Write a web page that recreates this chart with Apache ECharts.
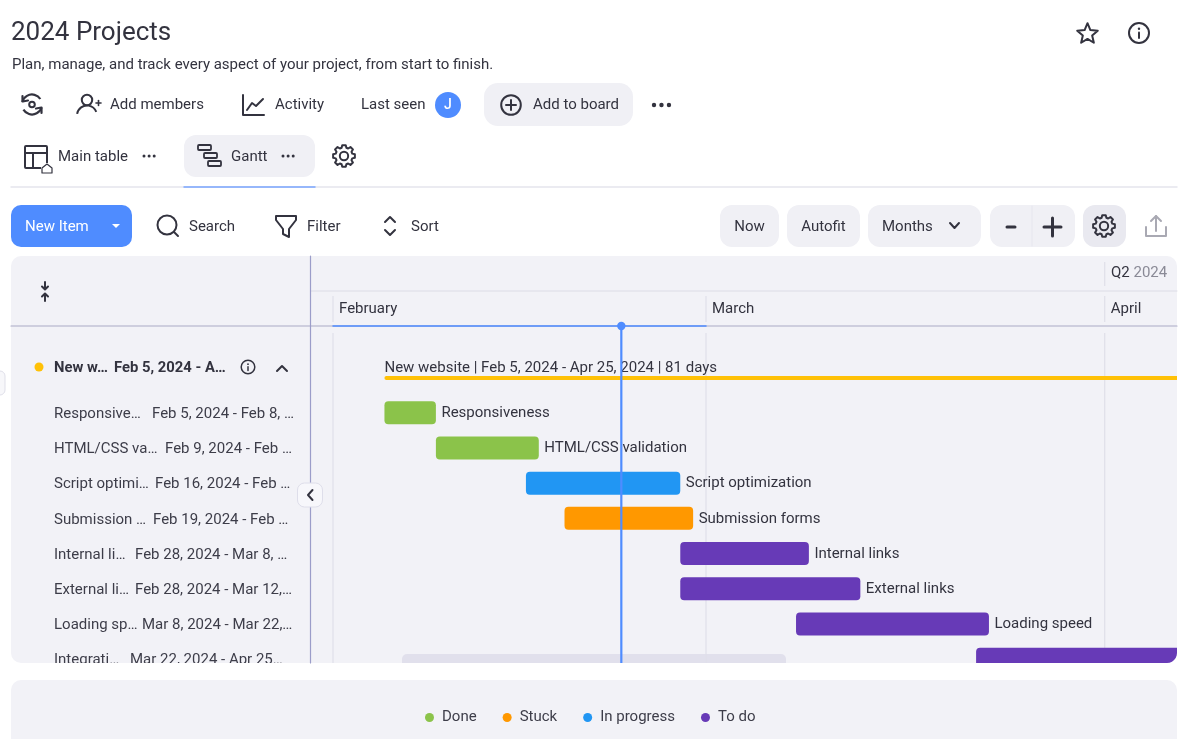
<!DOCTYPE html>
<html>
<head>
<meta charset="utf-8">
<script src="https://cdn.jsdelivr.net/npm/echarts@6/dist/echarts.min.js"></script>
<style>html,body{margin:0;padding:0;background:#fff}#main{width:1200px;height:739px}</style>
</head>
<body>
<div id="main"></div>
<script type="text/javascript">
// data
var taskNames = ['Responsiveness', 'HTML/CSS validation', 'Script optimization', 'Submission forms', 'Internal links', 'External links', 'Loading speed', 'Integration'];
var taskStatus = ['Done', 'Done', 'In progress', 'Stuck', 'To do', 'To do', 'To do', 'To do'];
var taskStarts = ['2024-02-05', '2024-02-09', '2024-02-16', '2024-02-19', '2024-02-28', '2024-02-28', '2024-03-08', '2024-03-22'];
var taskEnds = ['2024-02-09', '2024-02-17', '2024-02-28', '2024-02-29', '2024-03-09', '2024-03-13', '2024-03-23', '2024-04-26'];
var tableNames = ['Responsive…', 'HTML/CSS va…', 'Script optimi…', 'Submission …', 'Internal li…', 'External li…', 'Loading sp…', 'Integrati…'];
var tableDates = ['Feb 5, 2024 - Feb 8, …', 'Feb 9, 2024 - Feb …', 'Feb 16, 2024 - Feb …', 'Feb 19, 2024 - Feb …', 'Feb 28, 2024 - Mar 8, …', 'Feb 28, 2024 - Mar 12,…', 'Mar 8, 2024 - Mar 22,…', 'Mar 22, 2024 - Apr 25…'];
var summaryLabel = 'New website | Feb 5, 2024 - Apr 25, 2024 | 81 days';
var summaryStart = '2024-02-05';
var summaryEnd = '2024-04-26';
var monthStarts = ['2024-02-01', '2024-03-01', '2024-04-01'];
var todayDate = '2024-02-23T10:00:00Z';
var statusNames = ['Done', 'Stuck', 'In progress', 'To do'];

// styles and layout
var statusColors = { 'Done': '#8bc34a', 'Stuck': '#ff9800', 'In progress': '#2196f3', 'To do': '#673ab7' };
var dateColumnX = [152, 165, 155, 153, 135, 135, 142, 130];
var FONT = 'Roboto';
var INK = '#33333f';
var BTN = '#f0f0f5';
var PANEL = '#f2f2f7';
var BLUE = '#4f8cff';
var TEXT_SIZE = 15;

var ms = function (d) { return Date.parse(d); };
var g = [];

function text(s, x, y, size, fill, weight, align) {
    g.push({ type: 'text', z: 10, style: { text: s, x: x, y: y + 2, fill: fill || INK, align: align || 'left', verticalAlign: 'middle',
        font: (weight || 'normal') + ' ' + (size || TEXT_SIZE) + 'px ' + FONT } });
}
function rect(x, y, w, h, r, fill, stroke, z) {
    g.push({ type: 'rect', z: z === undefined ? 1 : z, shape: { x: x, y: y, width: w, height: h, r: r },
        style: { fill: fill, stroke: stroke || null, lineWidth: 1 } });
}
function line(points, color, width, z) {
    g.push({ type: 'polyline', z: z === undefined ? 9 : z, shape: { points: points },
        style: { stroke: color || INK, lineWidth: width || 2, fill: null, lineCap: 'round', lineJoin: 'round' } });
}
function circle(x, y, r, fill, stroke, width) {
    g.push({ type: 'circle', z: 9, shape: { cx: x, cy: y, r: r },
        style: { fill: fill || null, stroke: stroke || null, lineWidth: width || 2 } });
}
function arc(x, y, r, a, b, color, width) {
    g.push({ type: 'arc', z: 9, shape: { cx: x, cy: y, r: r, startAngle: a, endAngle: b, clockwise: true },
        style: { stroke: color || INK, lineWidth: width || 2, fill: null } });
}
function gear(x, y, r) {
    var pts = [];
    for (var i = 0; i < 8; i++) {
        var a = i * Math.PI / 4;
        [[-0.28, 0.78], [-0.16, 1], [0.16, 1], [0.28, 0.78]].forEach(function (p) {
            pts.push([x + Math.cos(a + p[0]) * r * p[1], y + Math.sin(a + p[0]) * r * p[1]]);
        });
    }
    g.push({ type: 'polygon', z: 9, shape: { points: pts }, style: { fill: null, stroke: INK, lineWidth: 2, lineJoin: 'round' } });
    circle(x, y, r * 0.38, null, INK, 2);
}
function dots(x, y, r) {
    [0, 1, 2].forEach(function (i) { circle(x + i * (r * 3.4), y, r, INK); });
}
function info(x, y, r, width) {
    circle(x, y, r, null, INK, width);
    circle(x, y - r * 0.42, width * 0.6, INK);
    line([[x, y - r * 0.05], [x, y + r * 0.5]], INK, width);
}

// page header
text('2024 Projects', 11, 31, 26);
text('Plan, manage, and track every aspect of your project, from start to finish.', 12, 63.5);
var starPts = [];
for (var si = 0; si < 10; si++) {
    var sa = -Math.PI / 2 + si * Math.PI / 5, sr = si % 2 ? 4.9 : 10.8;
    starPts.push([1087.5 + Math.cos(sa) * sr, 34 + Math.sin(sa) * sr]);
}
g.push({ type: 'polygon', z: 9, shape: { points: starPts }, style: { fill: null, stroke: INK, lineWidth: 2, lineJoin: 'round' } });
info(1139, 33, 10, 2);

// action row
arc(32, 104.5, 10, 0.3, 2.6, INK, 2.2);
arc(32, 104.5, 10, 3.4, 5.7, INK, 2.2);
circle(32, 104.5, 2.8, null, INK, 2);
line([[22.5, 96], [22.5, 101.5], [28, 100.5]], INK, 2.2);
line([[41.5, 113], [41.5, 107.5], [36, 108.5]], INK, 2.2);
circle(87, 100, 5.2, null, INK, 2);
arc(87, 115.5, 10, 3.3, 5.9, INK, 2);
line([[96, 103], [101, 103]], INK, 1.6);
line([[98.5, 100.5], [98.5, 105.5]], INK, 1.6);
text('Add members', 110, 103.5);
line([[243, 95], [243, 115], [264, 115]], INK, 2);
line([[247, 110], [252, 103], [256, 106], [263, 99]], INK, 2);
text('Activity', 275, 103.5);
text('Last seen', 361, 103.5);
circle(448, 105, 13, BLUE);
text('J', 448, 103.5, 14, '#fff', '500', 'center');
rect(484, 83, 149, 43, 14, BTN);
circle(511, 105, 9.8, null, INK, 2);
line([[506, 105], [516, 105]], INK, 2);
line([[511, 100], [511, 110]], INK, 2);
text('Add to board', 533, 103.5);
dots(654, 105, 2.2);

// tabs
rect(25, 146, 22, 22, 1, null, INK);
g[g.length - 1].style.lineWidth = 2;
line([[25, 153], [47, 153]], INK, 2);
line([[33, 153], [33, 168]], INK, 2);
rect(41, 163, 12, 12, 3, '#fff', null, 8);
line([[42, 168], [47, 164], [52, 168], [52, 173], [42, 173], [42, 168]], INK, 1.2);
text('Main table', 58, 155);
dots(144, 156, 1.5);
rect(184, 135, 131, 42, 12, BTN);
[[198, 145, 13], [204, 153, 13], [208, 161, 13]].forEach(function (b) {
    rect(b[0], b[1], b[2], 5, 1, null, INK, 9);
    g[g.length - 1].style.lineWidth = 1.8;
});
text('Gantt', 231, 155);
dots(283, 156, 1.5);
gear(344, 156, 11);
line([[11, 187], [1177, 187]], '#e5e5ed', 1.5, 1);
line([[184, 187], [315, 187]], '#7ba7ff', 1.5, 2);

// toolbar
rect(11, 205, 121, 42, 10, BLUE);
text('New Item', 25, 225, TEXT_SIZE, '#fff');
g.push({ type: 'polygon', z: 9, shape: { points: [[112, 224], [120, 224], [116, 228]] }, style: { fill: '#fff' } });
circle(167, 225, 9.5, null, INK, 2);
line([[174, 232], [178, 236]], INK, 2);
text('Search', 189, 225);
line([[276, 216], [296, 216], [296, 220], [289, 229], [289, 237], [283, 234], [283, 229], [276, 220], [276, 216]], INK, 2);
text('Filter', 307, 225);
line([[385, 222], [390, 217], [395, 222]], INK, 2);
line([[385, 230], [390, 235], [395, 230]], INK, 2);
text('Sort', 411, 225);
rect(720, 205, 59, 42, 12, BTN);
text('Now', 749.5, 225, TEXT_SIZE, INK, 'normal', 'center');
rect(787, 205, 73, 42, 12, BTN);
text('Autofit', 823.5, 225, TEXT_SIZE, INK, 'normal', 'center');
rect(868, 205, 113, 42, 12, BTN);
text('Months', 882, 225);
line([[950, 223], [954.5, 228], [959, 223]], INK, 2);
rect(990, 205, 85, 42, 12, BTN);
line([[1032, 206], [1032, 246]], '#e6e6ee', 1, 2);
line([[1007, 227], [1015, 227]], INK, 3);
line([[1044, 227], [1061, 227]], INK, 3);
line([[1052.5, 218], [1052.5, 236]], INK, 3);
rect(1083, 205, 43, 42, 12, '#e9e9f0');
gear(1104, 226, 11);
line([[1146, 227], [1146, 236], [1166, 236], [1166, 227]], '#a9a9b3', 2);
line([[1156, 231], [1156, 216]], '#a9a9b3', 2);
line([[1151, 221], [1156, 216], [1161, 221]], '#a9a9b3', 2);

// gantt panel
rect(11, 256, 1166, 407, 10, PANEL, null, 0);
rect(-10, 371, 15, 24, 5, '#f7f7fa', '#dfdfe9', 1);
line([[311, 291], [1177, 291]], '#dcdce6', 1, 1);
line([[11, 326], [1177, 326]], '#aaa9c6', 1.2, 1);
line([[310.5, 256], [310.5, 663]], '#9b9dc9', 1.2, 1);
line([[333, 326], [706, 326]], BLUE, 1.5, 2);
line([[45, 282], [45, 289]], INK, 2);
line([[42, 286.5], [45, 289.5], [48, 286.5]], INK, 2);
line([[45, 294], [45, 301]], INK, 2);
line([[42, 296.5], [45, 293.5], [48, 296.5]], INK, 2);
text('Q2', 1111, 271, TEXT_SIZE);
text('2024', 1133.5, 271, TEXT_SIZE, '#8a8a96');

// summary row of the table
circle(39, 367, 4.5, '#ffc107');
text('New w…', 54, 366, 14.8, INK, 'bold');
text('Feb 5, 2024 - A…', 114, 366, 14.8, INK, 'bold');
info(248, 367, 6.8, 1.5);
line([[277, 371], [282, 366], [287, 371]], INK, 2);

// collapse handle, scrollbar and the rounded corner of the panel
rect(297.5, 483, 25, 24, 7, '#f7f7fb', '#dedeea', 20);
line([[312.5, 490], [308, 495], [312.5, 500]], INK, 2, 21);
rect(402, 654, 384, 9, [5, 5, 0, 0], '#e1e0ec', null, 1);
var cornerPts = [[1177.5, 663.5]];
for (var ci = 0; ci <= 6; ci++) {
    var ca = ci * Math.PI / 12;
    cornerPts.push([1167 + Math.cos(ca) * 10, 653 + Math.sin(ca) * 10]);
}
g.push({ type: 'polygon', z: 20, shape: { points: cornerPts }, style: { fill: '#fff' } });

// legend panel
rect(11, 680, 1166, 80, 10, PANEL, null, 0);

function barItem(color) {
    return function (params, api) {
        var row = api.value(2);
        var a = api.coord([api.value(0), row]);
        var b = api.coord([api.value(1), row]);
        return {
            type: 'group',
            children: [
                { type: 'rect', shape: { x: a[0], y: a[1] - 11.5, width: b[0] - a[0], height: 23, r: 4 }, style: { fill: color } },
                { type: 'text', style: { text: taskNames[row - 1], x: b[0] + 5.5, y: a[1] + 0.5, fill: INK, align: 'left', verticalAlign: 'middle', font: TEXT_SIZE + 'px ' + FONT } }
            ]
        };
    };
}

var series = statusNames.map(function (name) {
    var rows = [];
    taskNames.forEach(function (t, i) {
        if (taskStatus[i] === name) rows.push([ms(taskStarts[i]), ms(taskEnds[i]), i + 1]);
    });
    return { type: 'custom', name: name, z: 3, clip: true, color: statusColors[name], encode: { x: [0, 1], y: 2 }, data: rows, renderItem: barItem(statusColors[name]) };
});

// project summary line and its label
series.push({
    type: 'custom', name: 'Summary', z: 3, clip: true, encode: { x: [0, 1], y: 2 },
    data: [[ms(summaryStart), ms(summaryEnd), 0]],
    renderItem: function (params, api) {
        var a = api.coord([api.value(0), 0]);
        var b = api.coord([api.value(1), 0]);
        return {
            type: 'group',
            children: [
                { type: 'rect', shape: { x: a[0], y: a[1] - 1.5, width: b[0] - a[0], height: 4, r: 2 }, style: { fill: '#ffc107' } },
                { type: 'text', style: { text: summaryLabel, x: a[0], y: a[1] - 9.5, fill: INK, align: 'left', verticalAlign: 'middle', font: TEXT_SIZE + 'px ' + FONT } }
            ]
        };
    }
});

// month separators in the header and the body
series.push({
    type: 'custom', name: 'Months', z: 1, clip: false, encode: { x: 0 },
    data: monthStarts.map(function (d) { return [ms(d)]; }),
    renderItem: function (params, api) {
        var x = api.coord([api.value(0), 0])[0];
        var col = '#dfdfe9';
        var kids = [
            { type: 'line', shape: { x1: x, y1: 296, x2: x, y2: 322 }, style: { stroke: col, lineWidth: 1.2 } },
            { type: 'line', shape: { x1: x, y1: 333, x2: x, y2: 663 }, style: { stroke: col, lineWidth: 1.2 } }
        ];
        if (params.dataIndex === 2) kids.push({ type: 'line', shape: { x1: x, y1: 262, x2: x, y2: 286 }, style: { stroke: col, lineWidth: 1.2 } });
        return { type: 'group', children: kids };
    }
});

// left table, cut at the bottom of the panel like the bars
series.push({
    type: 'custom', name: 'Table', z: 3, clip: false, encode: { y: 1 },
    data: tableNames.map(function (t, i) { return [ms(summaryStart), i + 1]; }),
    renderItem: function (params, api) {
        var i = params.dataIndex;
        var y = api.coord([api.value(0), api.value(1)])[1] + 1.4;
        var st = function (s, x) { return { type: 'text', style: { text: s, x: x, y: y, fill: '#3d3d49', align: 'left', verticalAlign: 'middle', font: TEXT_SIZE + 'px ' + FONT } }; };
        return {
            type: 'group',
            clipPath: { type: 'rect', shape: { x: 11, y: 330, width: 298, height: 333 } },
            children: [st(tableNames[i], 54), st(tableDates[i], dateColumnX[i])]
        };
    }
});

// today marker
series.push({
    type: 'custom', name: 'Today', z: 5, clip: false, encode: { x: 0 },
    data: [[ms(todayDate)]],
    renderItem: function (params, api) {
        var x = api.coord([api.value(0), 0])[0];
        return {
            type: 'group',
            children: [
                { type: 'line', shape: { x1: x, y1: 326, x2: x, y2: 663 }, style: { stroke: BLUE, lineWidth: 2.2 } },
                { type: 'circle', shape: { cx: x, cy: 326, r: 4.2 }, style: { fill: BLUE } }
            ]
        };
    }
});

var myChart = echarts.init(document.getElementById('main'));
myChart.setOption({
    animation: false,
    useUTC: true,
    textStyle: { fontFamily: FONT },
    grid: { left: 311, right: 23, top: 326, bottom: 76 },
    xAxis: {
        type: 'time',
        position: 'top',
        min: ms('2024-01-30T06:57:00Z'),
        max: ms('2024-04-06T14:53:00Z'),
        minInterval: 28 * 86400000,
        maxInterval: 31 * 86400000,
        axisLine: { show: false },
        axisTick: { show: false },
        splitLine: { show: false },
        axisLabel: {
            formatter: '{MMMM}', color: INK, fontSize: TEXT_SIZE, fontFamily: FONT, fontWeight: 'normal',
            align: 'left', margin: 9.5, padding: [0, 0, 0, 6], showMinLabel: false, showMaxLabel: false, hideOverlap: false
        }
    },
    yAxis: { type: 'value', inverse: true, min: -1.461, max: 8.106, show: false },
    legend: {
        data: statusNames, left: 420, top: 705, icon: 'circle', itemWidth: 9, itemHeight: 9, itemGap: 26,
        textStyle: { color: '#3d3d49', fontSize: TEXT_SIZE, fontFamily: FONT, padding: [0, 0, 0, 3] }
    },
    graphic: { elements: g },
    series: series
});
</script>
</body>
</html>
